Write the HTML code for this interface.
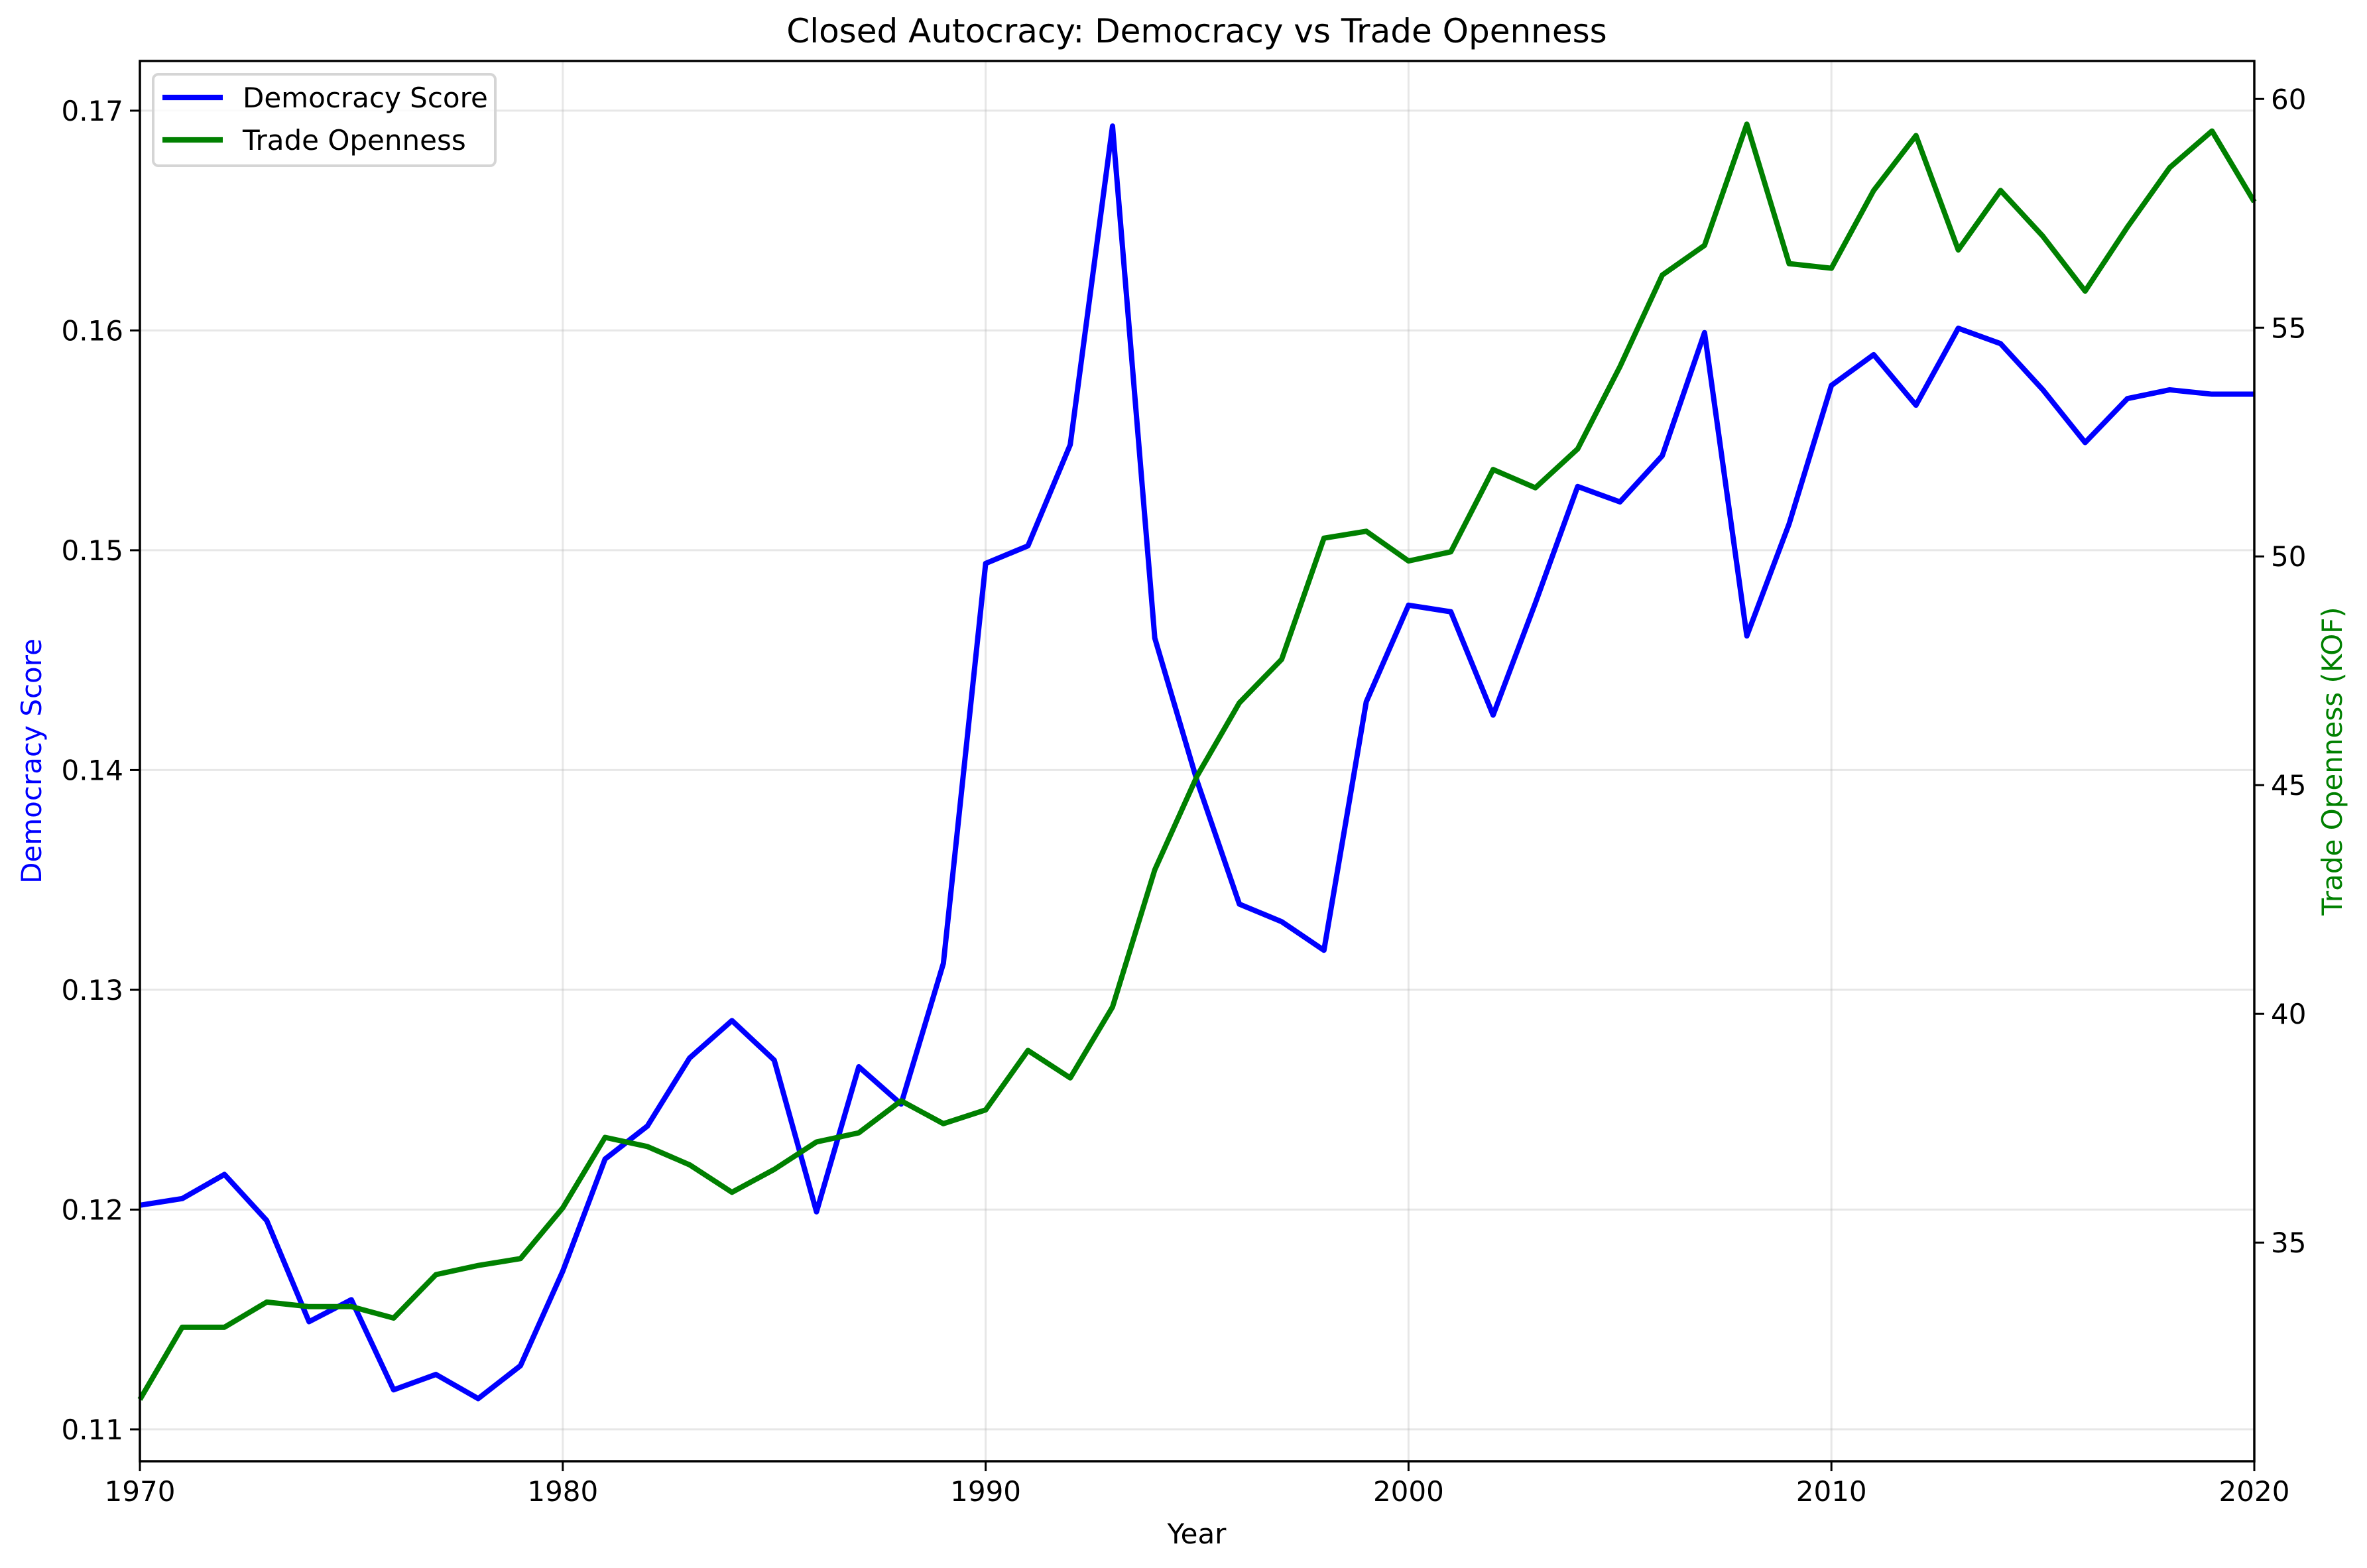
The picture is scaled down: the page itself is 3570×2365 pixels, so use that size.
<!DOCTYPE html>
<html><head><meta charset="utf-8"><style>
html,body{margin:0;padding:0;background:#fff}
svg{display:block;font-family:"DejaVu Sans","Liberation Sans",sans-serif}
</style></head><body>
<svg id="chart" width="3570" height="2365" viewBox="0 0 3570 2365" xmlns="http://www.w3.org/2000/svg">
<rect x="0" y="0" width="3570" height="2365" fill="#fff"/>
<g id="grid"></g><g id="series"></g><g id="axes"></g>
<text x="1805" y="64" font-size="50" text-anchor="middle">Closed Autocracy: Democracy vs Trade Openness</text>
<text x="1805" y="2328" font-size="42" text-anchor="middle">Year</text>
<text transform="translate(62,1148) rotate(-90)" font-size="42" text-anchor="middle" fill="#0000ff">Democracy Score</text>
<text transform="translate(3532,1148) rotate(-90)" font-size="42" text-anchor="middle" fill="#008000">Trade Openness (KOF)</text>
<g>
<rect x="231" y="112" width="516" height="138" rx="8" fill="#fff" fill-opacity="0.8" stroke="#d5d5d5" stroke-width="4"/>
<line x1="245" y1="147" x2="336" y2="147" stroke="#0000ff" stroke-width="8.3"/>
<text x="366" y="162" font-size="42">Democracy Score</text>
<line x1="245" y1="211" x2="336" y2="211" stroke="#008000" stroke-width="8.3"/>
<text x="366" y="226" font-size="42">Trade Openness</text>
</g>
</svg>
<script>
const years=[];for(let y=1970;y<=2020;y++)years.push(y);
const democracy=[0.1202,0.1205,0.1216,0.1195,0.1149,0.1159,0.1118,0.1125,0.1114,0.1129,0.1172,0.1223,0.1238,0.1269,0.1286,0.1268,0.1199,0.1265,0.1248,0.1312,0.1494,0.1502,0.1548,0.1693,0.1460,0.1395,0.1339,0.1331,0.1318,0.1431,0.1475,0.1472,0.1425,0.1476,0.1529,0.1522,0.1543,0.1599,0.1461,0.1512,0.1575,0.1589,0.1566,0.1601,0.1594,0.1573,0.1549,0.1569,0.1573,0.1571,0.1571];
const trade=[31.57,33.15,33.15,33.7,33.6,33.6,33.35,34.3,34.5,34.65,35.76,37.3,37.1,36.7,36.1,36.6,37.2,37.4,38.1,37.6,37.9,39.2,38.6,40.15,43.15,45.2,46.8,47.75,50.4,50.55,49.9,50.1,51.9,51.5,52.35,54.15,56.15,56.8,59.45,56.4,56.3,58.0,59.2,56.7,58.0,57.0,55.8,57.2,58.5,59.3,57.75];
const xTicks=[1970,1980,1990,2000,2010,2020];
const leftTicks=[0.11,0.12,0.13,0.14,0.15,0.16,0.17];
const leftTickLabels=["0.11","0.12","0.13","0.14","0.15","0.16","0.17"];
const rightTicks=[35,40,45,50,55,60];

const L=211,R=3400,T=92,B=2204;
const xS=v=>L+(v-1970)/50*(R-L);
const yL=v=>B-(v-0.10855)/(0.17226-0.10855)*(B-T);
const yR=v=>B-(v-30.22)/(60.83-30.22)*(B-T);
const NS="http://www.w3.org/2000/svg";
function mk(tag,attrs,parent,text){const e=document.createElementNS(NS,tag);for(const k in attrs)e.setAttribute(k,attrs[k]);if(text!==undefined)e.textContent=text;parent.appendChild(e);return e;}
const grid=document.getElementById('grid'),series=document.getElementById('series'),axes=document.getElementById('axes');
xTicks.forEach(t=>{
 const x=xS(t);
 const g=mk('line',{x1:x,y1:T,x2:x,y2:B,stroke:'#b0b0b0','stroke-opacity':0.3,'stroke-width':3},grid);
 
 
 mk('line',{x1:x,y1:B,x2:x,y2:B+15,stroke:'#000','stroke-width':3},axes);
 const tl=mk('text',{x:x,y:B+60,'font-size':42,'text-anchor':'middle'},axes,String(t));
 
 
});
leftTicks.forEach((t,i)=>{
 const y=yL(t);
 const g=mk('line',{x1:L,y1:y,x2:R,y2:y,stroke:'#b0b0b0','stroke-opacity':0.3,'stroke-width':3},grid);
 
 
 mk('line',{x1:L-15,y1:y,x2:L,y2:y,stroke:'#000','stroke-width':3},axes);
 const tl=mk('text',{x:L-25,y:y+15,'font-size':42,'text-anchor':'end'},axes,leftTickLabels[i]);
 
 
});
rightTicks.forEach(t=>{
 const y=yR(t);
 mk('line',{x1:R,y1:y,x2:R+15,y2:y,stroke:'#000','stroke-width':3},axes);
 const tl=mk('text',{x:R+25,y:y+15,'font-size':42,'text-anchor':'start'},axes,String(t));
 
 
});
const frame=mk('rect',{x:L,y:T,width:R-L,height:B-T,fill:'none',stroke:'#000','stroke-width':3.5},axes);


const dp=mk('polyline',{points:years.map((y,i)=>xS(y)+','+yL(democracy[i])).join(' '),fill:'none',stroke:'#0000ff','stroke-width':8,'stroke-linejoin':'round'},series);


const tp=mk('polyline',{points:years.map((y,i)=>xS(y)+','+yR(trade[i])).join(' '),fill:'none',stroke:'#008000','stroke-width':8,'stroke-linejoin':'round'},series);


</script>
</body></html>
